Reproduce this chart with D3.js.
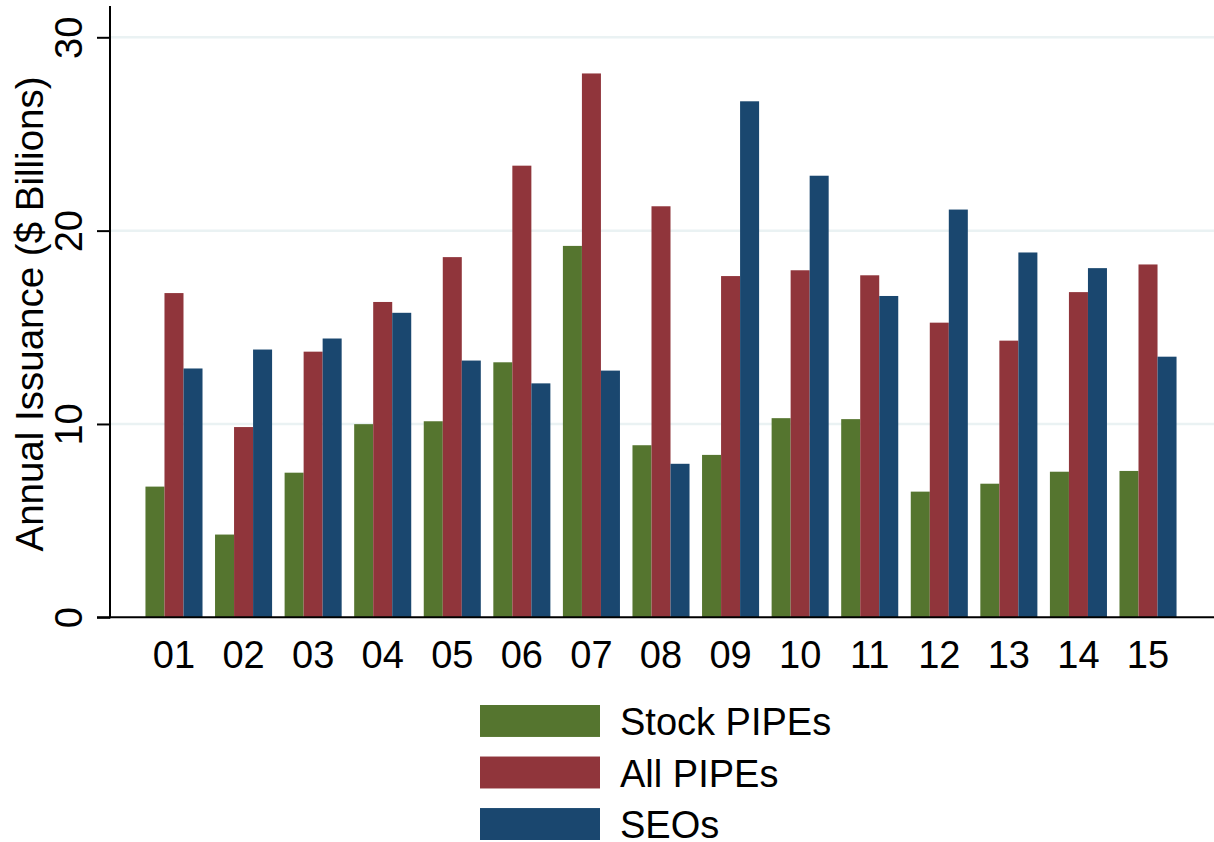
<!DOCTYPE html>
<html>
<head>
<meta charset="utf-8">
<script src="https://cdn.jsdelivr.net/npm/d3@7"></script>
<style>
  html, body { margin: 0; padding: 0; background: #ffffff; }
  svg { display: block; font-family: "Liberation Sans", Arial, sans-serif; }
</style>
</head>
<body>
<svg id="chart" width="1214" height="842"></svg>
<script>
const years = ["01","02","03","04","05","06","07","08","09","10","11","12","13","14","15"];
const stockPIPEs = [6.76, 4.28, 7.48, 9.99, 10.14, 13.19, 19.21, 8.90, 8.40, 10.30, 10.25, 6.50, 6.91, 7.53, 7.57];
const allPIPEs   = [16.77, 9.84, 13.74, 16.31, 18.63, 23.36, 28.13, 21.26, 17.65, 17.95, 17.69, 15.24, 14.31, 16.82, 18.25];
const seos       = [12.87, 13.85, 14.42, 15.75, 13.28, 12.10, 12.76, 7.94, 26.69, 22.84, 16.62, 21.09, 18.87, 18.06, 13.48];
const seriesNames = ["Stock PIPEs", "All PIPEs", "SEOs"];
const seriesColors = ["#55752f", "#90353b", "#1a476f"];
const yTicks = [0, 10, 20, 30];
const yTitle = "Annual Issuance ($ Billions)";

const seriesValues = [stockPIPEs, allPIPEs, seos];
const svg = d3.select("#chart");

const x = d3.scaleBand().domain(years).range([139.2, 1182.8]).paddingInner(0.18).paddingOuter(0.09);
const xs = d3.scaleBand().domain(d3.range(seriesNames.length)).range([0, x.bandwidth()]);
const y = d3.scaleLinear().domain([0, 30]).range([617.3, 37.3]);

// grid lines
svg.append("g").selectAll("line").data(yTicks.filter(d => d > 0)).join("line")
  .attr("x1", 111).attr("x2", 1214)
  .attr("y1", d => y(d)).attr("y2", d => y(d))
  .attr("stroke", "#eaf2f3").attr("stroke-width", 2.5);

// bars
const groups = svg.append("g").selectAll("g").data(years).join("g")
  .attr("transform", d => `translate(${x(d)},0)`);
groups.selectAll("rect")
  .data((d, i) => seriesValues.map((vals, s) => ({ s, v: vals[i] })))
  .join("rect")
  .attr("x", d => xs(d.s))
  .attr("width", xs.bandwidth())
  .attr("y", d => y(d.v))
  .attr("height", d => y(0) - y(d.v))
  .attr("fill", d => seriesColors[d.s]);

// y axis
const yAxis = d3.axisLeft(y).tickValues(yTicks).tickSize(13).tickFormat(d3.format("d"));
const gy = svg.append("g").attr("transform", "translate(110,0)").call(yAxis);
gy.select(".domain").remove();
gy.selectAll(".tick line").attr("stroke", "#000").attr("stroke-width", 2);
gy.selectAll(".tick text")
  .attr("font-size", 38).attr("fill", "#000")
  .attr("x", 0).attr("dy", 0)
  .attr("text-anchor", "middle")
  .attr("transform", "translate(-28,0) rotate(-90)");
svg.append("line").attr("x1", 110).attr("x2", 110).attr("y1", 6).attr("y2", 618.3)
  .attr("stroke", "#000").attr("stroke-width", 2);

// x axis
const xAxis = d3.axisBottom(x).tickSize(0).tickPadding(0);
const gx = svg.append("g").attr("transform", `translate(0,${y(0)})`).call(xAxis);
gx.select(".domain").remove();
gx.selectAll(".tick text").attr("font-size", 38).attr("fill", "#000").attr("dy", 0).attr("y", 51);
svg.append("line").attr("x1", 97).attr("x2", 1214).attr("y1", y(0)).attr("y2", y(0))
  .attr("stroke", "#000").attr("stroke-width", 2);

// y title
svg.append("text")
  .attr("transform", "translate(43,314) rotate(-90)")
  .attr("text-anchor", "middle")
  .attr("font-size", 38.5).attr("fill", "#000")
  .text(yTitle);

// legend
const legendY = d3.scaleBand().domain(seriesNames).range([705, 840]).paddingInner(0.38);
const leg = svg.append("g").selectAll("g").data(seriesNames).join("g")
  .attr("transform", d => `translate(480,${legendY(d)})`);
leg.append("rect").attr("width", 120).attr("height", legendY.bandwidth())
  .attr("fill", (d, i) => seriesColors[i]);
leg.append("text").attr("x", 140).attr("y", legendY.bandwidth() / 2 + 14)
  .attr("font-size", 38).attr("fill", "#000").text(d => d);
</script>
</body>
</html>
